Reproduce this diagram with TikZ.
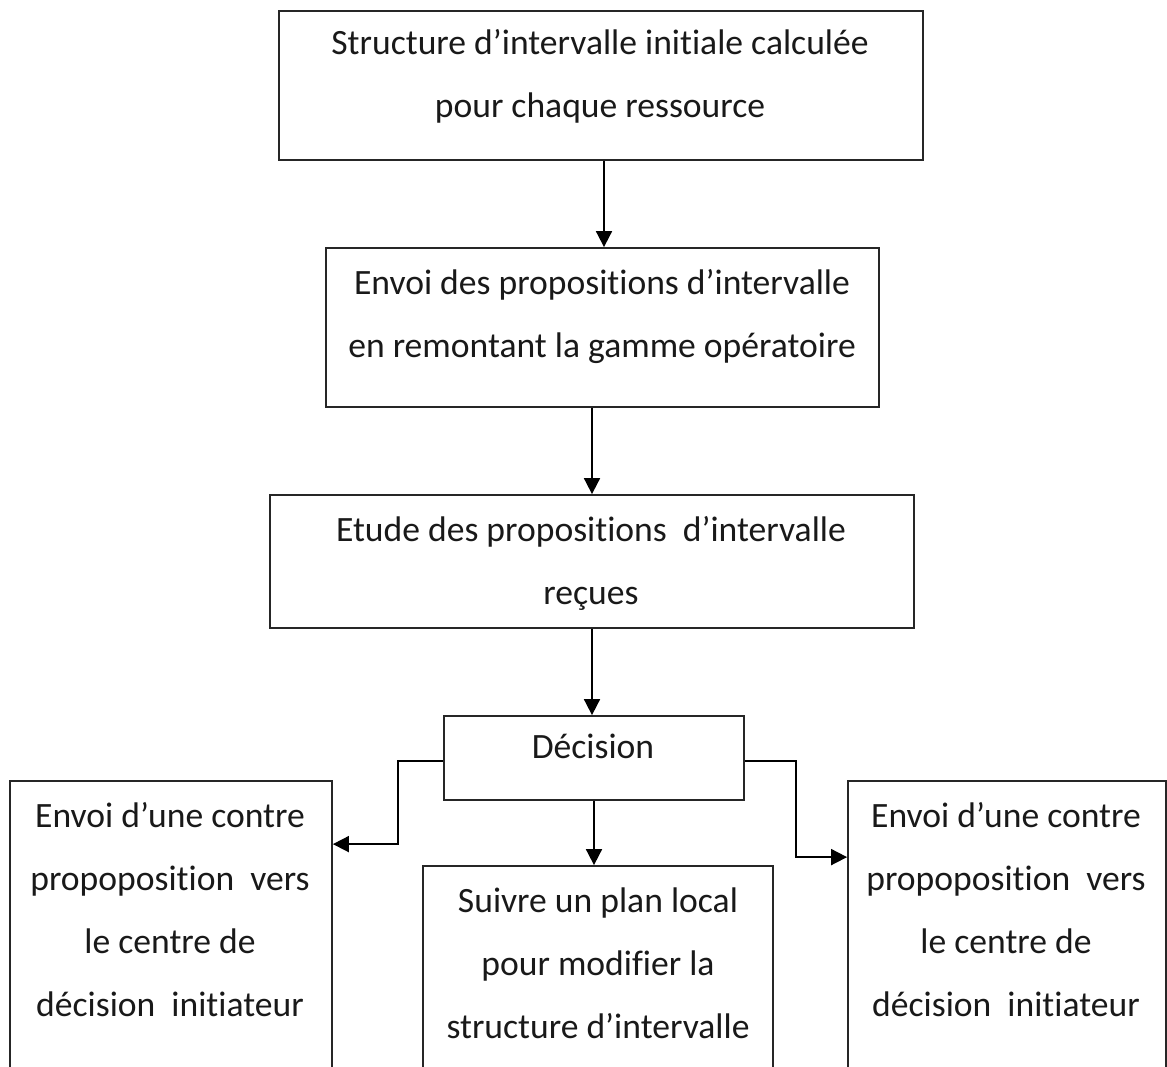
\documentclass[tikz,border=0pt]{standalone}
\usepackage{fontspec}
\setmainfont{Carlito}[Ligatures={NoCommon}]
\usetikzlibrary{arrows.meta}
\begin{document}
\begin{tikzpicture}[x=1pt,y=-1pt,
  box/.style={draw=black!85, line width=1.8pt, inner sep=0pt, rectangle},
  txt/.style={align=center, inner sep=0pt, text=black!90, font=\fontsize{35.6}{63}\selectfont},
  arr/.style={draw=black, line width=1.8pt, -{Triangle[width=16pt,length=16pt]}}]
\clip (0,0) rectangle (1167,1066);

% boxes
\node[box, minimum width=644pt, minimum height=149pt] (b1) at (601,85.5) {};
\node[box, minimum width=553pt, minimum height=159pt] (b2) at (602.5,327.5) {};
\node[box, minimum width=644pt, minimum height=133pt] (b3) at (592,561.5) {};
\node[box, minimum width=300pt, minimum height=84pt]  (bD) at (594,758) {};
\node[box, minimum width=350pt, minimum height=264pt] (b5) at (598,998) {};
\node[box, minimum width=322pt, minimum height=326pt] (bL) at (171,944) {};
\node[box, minimum width=318pt, minimum height=326pt] (bR) at (1007,944) {};

% texts
\node[txt] (t1) at (600,73) {\strut Structure d’intervalle initiale calculée\\ pour chaque ressource\strut};
\node[txt] (t2) at (602,313) {\strut Envoi des propositions d’intervalle\\ en remontant la gamme opératoire\strut};
\node[txt] (t3) at (591,560) {\strut Etude des propositions\ \ d’intervalle\\ reçues\strut};
\node[txt] (tD) at (593,746) {\strut Décision\strut};
\node[txt] (t5) at (598,963) {\strut Suivre un plan local\\ pour modifier la\\ structure d’intervalle\strut};
\node[txt] (tL) at (170,909) {\strut Envoi d’une contre\\ propoposition\ \ vers\\ le centre de\\ décision\ \ initiateur\strut};
\node[txt] (tR) at (1006,909) {\strut Envoi d’une contre\\ propoposition\ \ vers\\ le centre de\\ décision\ \ initiateur\strut};

% connectors
\draw[arr] ([xshift=3pt]b1.south) -- ([xshift=3pt]b1.south |- b2.north);
\draw[arr] (b3.north |- b2.south) -- (b3.north);
\draw[arr] (b3.south) -- (b3.south |- bD.north);
\draw[arr] (bD.south) -- (bD.south |- b5.north);
\draw[arr] ([yshift=-3pt]bD.west) -- ++(-45,0) |- ([yshift=-64pt]bL.north east);
\draw[arr] ([yshift=-3pt]bD.east) -- ++(51,0) |- ([yshift=-77pt]bR.north west);
\end{tikzpicture}
\end{document}
